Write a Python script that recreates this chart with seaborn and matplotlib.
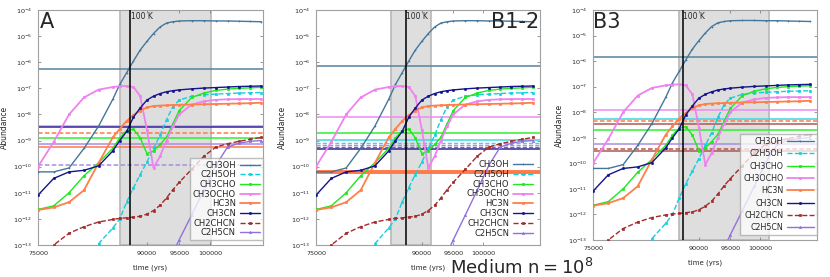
import numpy as np
import pandas as pd
import matplotlib
matplotlib.use("Agg")
import matplotlib.pyplot as plt
import seaborn as sns
from matplotlib.ticker import FixedLocator, FixedFormatter, NullLocator

species = ["CH3OH", "C2H5OH", "CH3CHO", "CH3OCHO", "HC3N", "CH3CN", "CH2CHCN", "C2H5CN"]

time_yrs = [75000, 77000, 79000, 81000, 83000, 85000, 86000, 87000, 88000, 89000, 90000,
            91000, 92000, 93000, 94000, 95000, 97000, 99000, 101000, 103000, 105000,
            107000, 109000]

nan = np.nan
# log10(abundance) of the model curves (same run drawn in all panels)
log_ch3oh = [-10.2, -10.2, -10.05, -9.3, -8.45, -7.42, -6.85, -6.4, -5.95, -5.53, -5.2,
             -4.9, -4.65, -4.5, -4.45, -4.42, -4.41, -4.41, -4.42, -4.42, -4.43, -4.44, -4.45]
log_c2h5oh = [nan, nan, nan, -13.6, -12.95, -12.35, -12.0, -11.35, -10.8, -10.3, -9.82,
              -9.3, -8.8, -8.2, -7.7, -7.45, -7.3, -7.25, -7.22, -7.2, -7.18, -7.17, -7.16]
log_ch3cho = [-11.64, -11.5, -11.0, -10.35, -9.85, -9.3, -8.9, -8.62, -8.56, -8.9, -9.5,
              -9.4, -9.15, -8.87, -8.35, -7.85, -7.35, -7.18, -7.08, -7.03, -7.0, -6.98, -6.96]
log_ch3ocho = [-10.0, -9.05, -8.0, -7.35, -7.05, -6.95, -6.92, -6.91, -6.95, -7.3, -8.6,
               -10.05, -9.6, -9.0, -8.45, -8.0, -7.62, -7.5, -7.44, -7.42, -7.41, -7.41, -7.41]
log_hc3n = [-11.66, -11.56, -11.36, -10.9, -9.86, -8.88, -8.55, -8.25, -8.02, -7.85, -7.73,
            -7.68, -7.66, -7.65, -7.64, -7.63, -7.62, -7.61, -7.6, -7.59, -7.58, -7.57, -7.55]
log_ch3cn = [-11.09, -10.45, -10.2, -10.14, -9.97, -9.4, -9.0, -8.65, -8.1, -7.75, -7.45,
             -7.3, -7.2, -7.13, -7.09, -7.06, -7.02, -6.99, -6.97, -6.95, -6.93, -6.92, -6.91]
log_ch2chcn = [-13.5, -13.0, -12.55, -12.3, -12.12, -12.02, -11.98, -11.96, -11.93, -11.9,
               -11.82, -11.68, -11.48, -11.2, -10.88, -10.6, -10.1, -9.6, -9.25, -9.12,
               -9.03, -8.95, -8.88]
log_c2h5cn = [nan, nan, nan, nan, nan, nan, nan, nan, nan, nan, nan,
              nan, -14.3, -13.8, -13.3, -12.8, -11.85, -10.9, -9.95, -9.25, -9.1, -9.03, -9.0]

# observed abundances (horizontal lines), per panel
obsA_species = ["CH3OH", "CH3OCHO", "CH3CN", "HC3N", "CH3CHO", "C2H5CN", "HC3N", "C2H5CN"]
obsA_log = [-6.26, -8.44, -8.49, -8.70, -8.92, -9.15, -9.24, -9.94]
obsB12_species = ["CH3OH", "CH3OCHO", "CH3CHO", "C2H5OH", "C2H5OH", "C2H5CN", "CH2CHCN",
                  "CH3CN", "HC3N"]
obsB12_log = [-6.13, -8.11, -8.70, -8.98, -9.08, -9.17, -9.26, -9.33, -10.19]
obsB3_species = ["CH3OH", "CH3OCHO", "C2H5OH", "HC3N", "CH2CHCN", "CH3CHO", "C2H5CN",
                 "CH2CHCN", "CH2CHCN"]
obsB3_log = [-5.82, -7.91, -8.26, -8.36, -8.45, -8.69, -9.25, -9.44, -9.53]

# hot phase (shaded) and the 100 K time
spanA = (86000, 100200)
spanB12 = (85400, 91400)
spanB3 = (86900, 101500)
t_100K = 87500

xticks = [75000, 90000, 95000, 100000]
yticks = [1e-13, 1e-12, 1e-11, 1e-10, 1e-9, 1e-8, 1e-7, 1e-6, 1e-5, 1e-4]

curves = pd.DataFrame({"time": time_yrs, "CH3OH": log_ch3oh, "C2H5OH": log_c2h5oh,
                       "CH3CHO": log_ch3cho, "CH3OCHO": log_ch3ocho, "HC3N": log_hc3n,
                       "CH3CN": log_ch3cn, "CH2CHCN": log_ch2chcn, "C2H5CN": log_c2h5cn})

colors = {"CH3OH": "#44769b", "C2H5OH": "#12cfe0", "CH3CHO": "#1ee81e", "CH3OCHO": "#ee82ee",
          "HC3N": "#ff7f4a", "CH3CN": "#14148c", "CH2CHCN": "#a52a2a", "C2H5CN": "#9370db"}
obs_colors = {"CH3OH": "#55839f", "C2H5OH": "#3ad6e6", "CH3CHO": "#30f030", "CH3OCHO": "#ee8cee",
              "HC3N": "#ff7a48", "CH3CN": "#2a2a9e", "CH2CHCN": "#b05850", "C2H5CN": "#a88ee2"}
markers = {"CH3OH": "+", "C2H5OH": "s", "CH3CHO": "s", "CH3OCHO": "s", "HC3N": "s",
           "CH3CN": "o", "CH2CHCN": "s", "C2H5CN": "^"}
dashed_sp = ["C2H5OH", "CH2CHCN"]

obsA_ls = ["-", "-", "-", "--", "-", "-", "-", "--"]
obsB12_ls = ["-", "-", "-", "-", "--", "--", "--", "-", "-"]
obsB12_lw = [1.1, 1.1, 1.1, 1.1, 1.0, 1.0, 1.0, 1.1, 2.8]
obsB3_ls = ["-", "-", "-", "--", "-", "-", "-", "--", "-"]

sns.set_style("ticks")
plt.rcParams["font.family"] = ["DejaVu Sans"]

fig = plt.figure(figsize=(8.3, 2.77), dpi=100)
axA = fig.add_axes([38 / 830, 32 / 277, 225 / 830, 235 / 277])
axB12 = fig.add_axes([316 / 830, 32 / 277, 224 / 830, 235 / 277])
axB3 = fig.add_axes([593 / 830, 37 / 277, 224 / 830, 230 / 277])


def draw_panel(ax, obs_sp, obs_log, obs_ls, obs_lw, span, xmax):
    ax.set_xscale("log")
    ax.set_yscale("log")
    ax.set_xlim(75000, xmax)
    ax.set_ylim(1e-13, 1e-4)
    ax.axvspan(span[0], span[1], facecolor="#dedede", edgecolor="#b8b8b8", lw=1.2, zorder=0)
    for sp, v, ls, lw in zip(obs_sp, obs_log, obs_ls, obs_lw):
        ax.axhline(10.0 ** v, color=obs_colors[sp], lw=lw, zorder=1,
                   dashes=(3, 1.5) if ls == "--" else (None, None))
    for sp in species:
        d = curves[["time", sp]].dropna()
        sns.lineplot(x=d["time"], y=10.0 ** d[sp], ax=ax, color=colors[sp],
                     marker=markers[sp], markersize=1.6, markeredgewidth=0.5,
                     markeredgecolor=colors[sp],
                     linewidth=1.3 if sp in ("HC3N", "CH3OCHO") else 1.0,
                     linestyle="--" if sp in dashed_sp else "-", label=sp, zorder=3)
    ax.axvline(t_100K, color="black", lw=1.1, zorder=4)
    ax.text(t_100K * 1.001, 10 ** -4.08, "100 K", fontsize=5.5, va="top", ha="left", zorder=5)

    ax.xaxis.set_major_locator(FixedLocator(xticks))
    ax.xaxis.set_major_formatter(FixedFormatter([str(t) for t in xticks]))
    ax.xaxis.set_minor_locator(NullLocator())
    ax.yaxis.set_major_locator(FixedLocator(yticks))
    ax.yaxis.set_minor_locator(NullLocator())
    ax.tick_params(which="both", direction="in", length=2.5, width=0.5, color="#707070",
                   labelsize=4.6, top=True, right=True, pad=4)
    for s in ax.spines.values():
        s.set_color("#a0a0a0")
        s.set_linewidth(0.8)
    ax.set_xlabel("time (yrs)", fontsize=5)
    ax.xaxis.set_label_coords(0.5, -0.085)
    ax.set_ylabel("Abundance", fontsize=5.5)
    ax.yaxis.set_label_coords(-0.13, 0.5)


draw_panel(axA, obsA_species, obsA_log, obsA_ls, [1.1] * len(obsA_log), spanA, 109300)
draw_panel(axB12, obsB12_species, obsB12_log, obsB12_ls, obsB12_lw, spanB12, 110300)
draw_panel(axB3, obsB3_species, obsB3_log, obsB3_ls, [1.1] * len(obsB3_log), spanB3, 110300)

h, l = axA.get_legend_handles_labels()
axA.legend(h, l, loc="lower right", bbox_to_anchor=(1.0, 0.02), borderaxespad=0,
           markerfirst=False, fontsize=6, labelspacing=0.08, handlelength=2.4,
           handletextpad=0.5, borderpad=0.35, fancybox=False, edgecolor="#a8a8a8",
           framealpha=0.75)
h, l = axB12.get_legend_handles_labels()
axB12.legend(h, l, loc="lower right", bbox_to_anchor=(0.978, 0.02), borderaxespad=0,
             markerfirst=False, fontsize=6, labelspacing=0.1, handlelength=2.4,
             handletextpad=0.4, borderpad=0.3, frameon=False)
h, l = axB3.get_legend_handles_labels()
axB3.legend(h, l, loc="lower right", bbox_to_anchor=(1.0, 0.022), borderaxespad=0,
            markerfirst=False, fontsize=5.7, labelspacing=0.42, handlelength=3.5,
            handletextpad=0.4, borderpad=0.35, fancybox=False, edgecolor="#a8a8a8",
            framealpha=0.75)

axA.text(0.009, 0.923, "A", transform=axA.transAxes, fontsize=15, va="baseline", ha="left")
axB12.text(0.998, 0.923, "B1-2", transform=axB12.transAxes, fontsize=15, va="baseline",
           ha="right")
axB3.text(0.0, 0.92, "B3", transform=axB3.transAxes, fontsize=15, va="baseline", ha="left")

fig.text(450 / 830, 0.0126, r"Medium $\mathregular{n=10^8}$", fontsize=13, ha="left",
         va="baseline")

fig.savefig("out.png", dpi=100)
